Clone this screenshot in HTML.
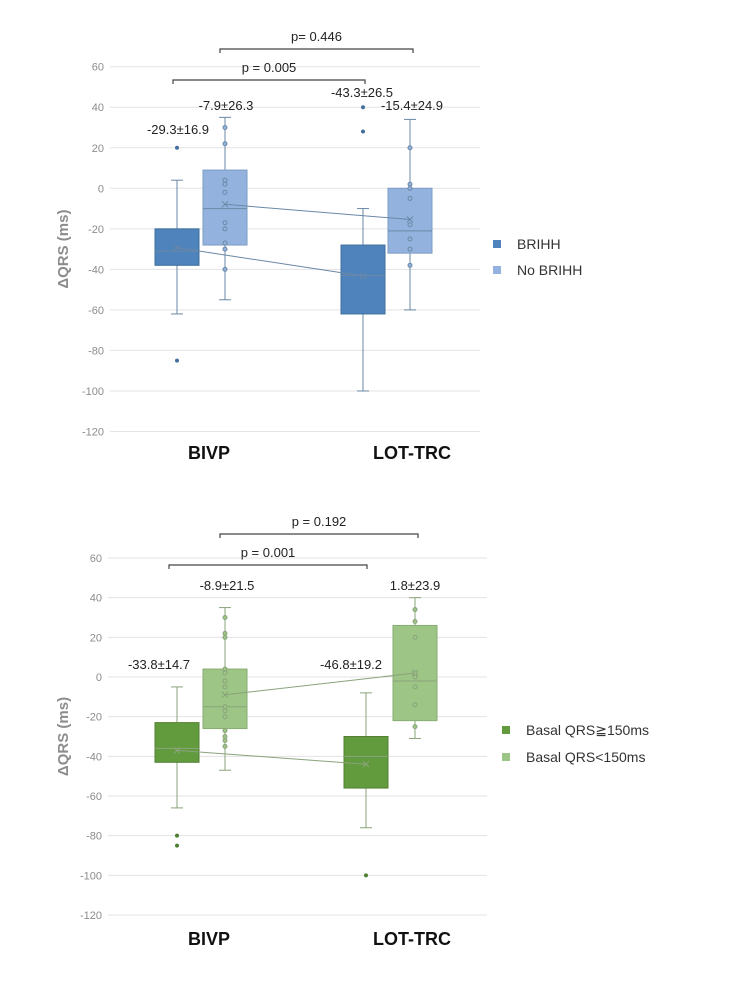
<!DOCTYPE html>
<html><head><meta charset="utf-8"><style>
body{margin:0;background:#fff;}
svg{display:block;font-family:"Liberation Sans",sans-serif;}
</style></head><body>
<svg id="s" width="750" height="985" viewBox="0 0 750 985"></svg>
<script>
const ticks=[60,40,20,0,-20,-40,-60,-80,-100,-120];
const categories=["BIVP","LOT-TRC"];
// top chart
const topSeries=["BRIHH","No BRIHH"];
const topQ3=[[-20,9],[-28,0]];
const topQ1=[[-38,-28],[-62,-32]];
const topMed=[[-31,-10],[-43,-21]];
const topMean=[[-29.3,-7.9],[-43.3,-15.4]];
const topWhiHi=[[4,35],[-10,34]];
const topWhiLo=[[-62,-55],[-100,-60]];
const topPts=[[[20,-85],[30,22,4,2,-2,-17,-20,-27,-30,-40]],[[40,28],[20,2,0,-5,-18,-25,-30,-38]]];
const topLabels=[["-29.3±16.9","-7.9±26.3"],["-43.3±26.5","-15.4±24.9"]];
const topP=["p = 0.005","p= 0.446"];
// bottom chart
const botSeries=["Basal QRS≧150ms","Basal QRS<150ms"];
const botQ3=[[-23,4],[-30,26]];
const botQ1=[[-43,-26],[-56,-22]];
const botMed=[[-36,-15],[-40,-2]];
const botMean=[[-37,-9],[-44,2]];
const botWhiHi=[[-5,35],[-8,40]];
const botWhiLo=[[-66,-47],[-76,-31]];
const botPts=[[[-80,-85],[30,22,20,4,2,-2,-5,-15,-17,-20,-27,-30,-32,-35]],[[-100],[34,28,20,2,0,-5,-14,-25]]];
const botLabels=[["-33.8±14.7","-8.9±21.5"],["-46.8±19.2","1.8±23.9"]];
const botP=["p = 0.001","p = 0.192"];

const S=document.getElementById('s');
const NS='http://www.w3.org/2000/svg';
function el(t,a,txt){const e=document.createElementNS(NS,t);for(const k in a)e.setAttribute(k,a[k]);if(txt!==undefined)e.textContent=txt;S.appendChild(e);return e;}

function chart(cfg){
  const Y=v=>cfg.y0+(cfg.y0-cfg.y60)*(-v)/60;
  ticks.forEach(t=>{
    const g=el('line',{x1:cfg.left,x2:cfg.right,y1:Y(t),y2:Y(t),stroke:'#e3e3e3','stroke-width':1});
    
    
    const l=el('text',{x:cfg.left-6,y:Y(t)+4,'text-anchor':'end','font-size':11,fill:'#8c8c8c'},String(t));
    
    
  });
  const yt=el('text',{transform:`translate(68,${Y(-30)}) rotate(-90)`,'text-anchor':'middle','font-size':15,'font-weight':'bold',fill:'#8c8c8c'},'ΔQRS (ms)');
  
  
  categories.forEach((c,i)=>{
    const t=el('text',{x:cfg.catX[i],y:cfg.catY,'text-anchor':'middle','font-size':18,'font-weight':'bold',fill:'#111'},c);
    
    
  });
  for(let c=0;c<2;c++)for(let s=0;s<2;s++){
    const x=cfg.cx[c][s],w=44,col=cfg.col[s];
    const wl=el('line',{x1:x,x2:x,y1:Y(cfg.hi[c][s]),y2:Y(cfg.lo[c][s]),stroke:cfg.line,'stroke-width':1});
    
    
    [cfg.hi[c][s],cfg.lo[c][s]].forEach(v=>{
      const cap=el('line',{x1:x-6,x2:x+6,y1:Y(v),y2:Y(v),stroke:cfg.line,'stroke-width':1});
      
      
    });
    const b=el('rect',{x:x-w/2,y:Y(cfg.q3[c][s]),width:w,height:Y(cfg.q1[c][s])-Y(cfg.q3[c][s]),fill:col,stroke:cfg.edge[s],'stroke-width':1});
    
    
    const md=el('line',{x1:x-w/2,x2:x+w/2,y1:Y(cfg.med[c][s]),y2:Y(cfg.med[c][s]),stroke:cfg.line,'stroke-width':1});
    
    
    const my=Y(cfg.mean[c][s]);
    const mk=el('path',{d:`M${x-3},${my-3}L${x+3},${my+3}M${x-3},${my+3}L${x+3},${my-3}`,stroke:cfg.line,'stroke-width':1});
    
    
    cfg.pts[c][s].forEach(v=>{
      const p=el('circle',{cx:x,cy:Y(v),r:2,fill:s?cfg.col[1]:cfg.dot,stroke:s?cfg.line:'none','stroke-width':1});
      
      
    });
    const lb=el('text',{x:cfg.labX[c][s],y:cfg.labY[c][s],'text-anchor':'middle','font-size':13,fill:'#222'},cfg.labels[c][s]);
    
    
  }
  for(let s=0;s<2;s++){
    const ml=el('line',{x1:cfg.cx[0][s],y1:Y(cfg.mean[0][s]),x2:cfg.cx[1][s],y2:Y(cfg.mean[1][s]),stroke:cfg.line,'stroke-width':1});
    
    
  }
  cfg.brackets.forEach((b,i)=>{
    const br=el('path',{d:`M${b[0]},${b[2]+4}V${b[2]}H${b[1]}V${b[2]+4}`,fill:'none',stroke:'#444','stroke-width':1.2});
    
    
    const pt=el('text',{x:(b[0]+b[1])/2,y:b[2]-8,'text-anchor':'middle','font-size':13,fill:'#222'},cfg.p[i]);
    
    
  });
  cfg.series.forEach((n,s)=>{
    const r=el('rect',{x:cfg.legX,y:cfg.legY[s]-4,width:8,height:8,fill:cfg.col[s]});
    
    
    const t=el('text',{x:cfg.legX+24,y:cfg.legY[s]+5,'font-size':14,fill:'#333'},n);
    
    
  });
}
chart({y60:66.7,y0:188.3,left:110,right:480,catX:[209,412],catY:459,cx:[[177,225],[363,410]],
  col:['#4f83bb','#93b3de'],edge:['#3f6f9f','#7d9cc6'],line:'#6a88a6',dot:'#43709f',
  q3:topQ3,q1:topQ1,med:topMed,mean:topMean,hi:topWhiHi,lo:topWhiLo,pts:topPts,labels:topLabels,
  labX:[[178,226],[362,412]],labY:[[134,110],[97,110]],
  brackets:[[173,365,80],[220,413,49]],p:topP,series:topSeries,legX:493,legY:[244,270]});
chart({y60:558,y0:677,left:108,right:487,catX:[209,412],catY:945,cx:[[177,225],[366,415]],
  col:['#629b3d','#9dc585'],edge:['#527f34','#88ad73'],line:'#8aa37b',dot:'#4f7f30',
  q3:botQ3,q1:botQ1,med:botMed,mean:botMean,hi:botWhiHi,lo:botWhiLo,pts:botPts,labels:botLabels,
  labX:[[159,227],[351,415]],labY:[[669,590],[669,590]],
  brackets:[[169,367,565],[220,418,534]],p:botP,series:botSeries,legX:502,legY:[730,757]});
</script>
</body></html>
